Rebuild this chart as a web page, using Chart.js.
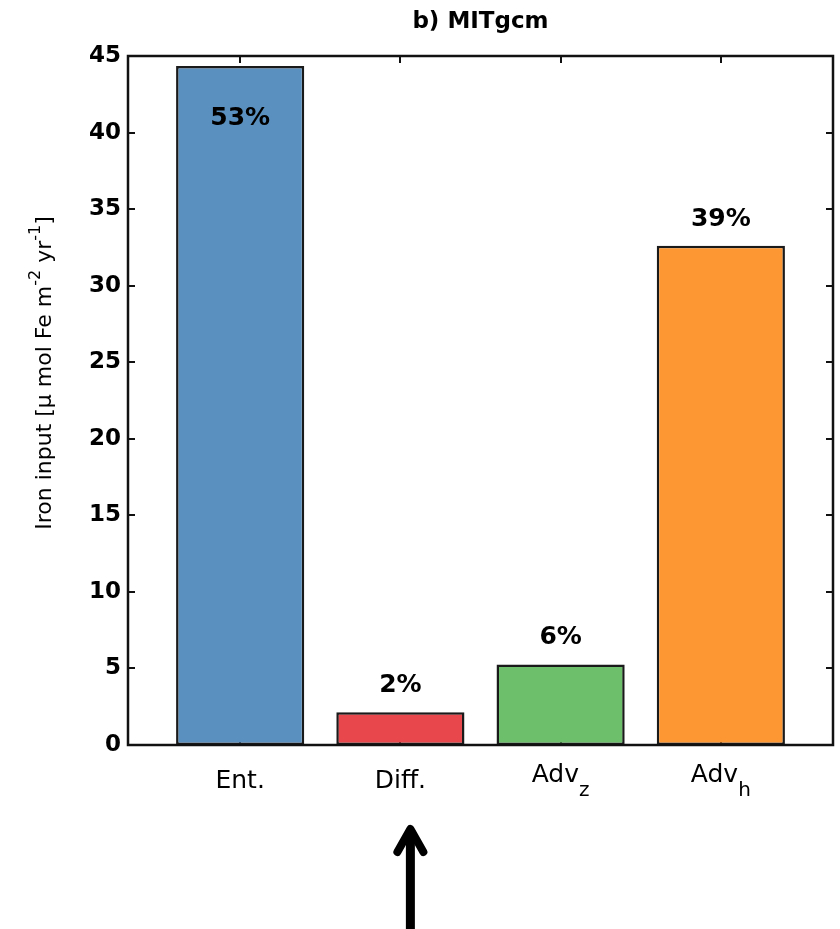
<!DOCTYPE html>
<html>
<head>
<meta charset="utf-8">
<script src="https://cdn.jsdelivr.net/npm/chart.js@4/dist/chart.umd.min.js"></script>
<style>
  html, body { margin: 0; padding: 0; background: #fff; }
  #c { display: block; }
</style>
</head>
<body>
<canvas id="c" width="840" height="929"></canvas>
<script>
// Iron supply terms (MITgcm)
const categories = ['Ent.', 'Diff.', 'Adv', 'Adv'];
const subscripts = ['', '', 'z', 'h'];
const ironInput = [44.35, 2.14, 5.26, 32.6];
const shareLabels = ['53%', '2%', '6%', '39%'];
const barColors = ['#5A90BF', '#E8474B', '#6DBF6C', '#FD9733'];
const yTickValues = [0, 5, 10, 15, 20, 25, 30, 35, 40, 45];

const FONT = "'DejaVu Sans', 'Liberation Sans', sans-serif";
const INK = '#111';

function drawRich(ctx, parts, x, y, align) {
  // parts: [{t, size, weight, dy}] drawn on one line, dy shifts baseline
  let total = 0;
  for (const p of parts) {
    ctx.font = `${p.weight || 'normal'} ${p.size}px ${FONT}`;
    p.w = ctx.measureText(p.t).width;
    total += p.w;
  }
  let cx = align === 'center' ? x - total / 2 : x;
  ctx.textAlign = 'left';
  ctx.textBaseline = 'alphabetic';
  for (const p of parts) {
    ctx.font = `${p.weight || 'normal'} ${p.size}px ${FONT}`;
    ctx.fillText(p.t, cx, y + (p.dy || 0));
    cx += p.w;
  }
}

const framePlugin = {
  id: 'frame',
  beforeDatasetsDraw(chart) {
    const { ctx, chartArea: a, scales: { x, y } } = chart;
    ctx.save();
    ctx.strokeStyle = INK;
    ctx.lineWidth = 2;
    ctx.beginPath();
    const tl = 7;
    for (const v of yTickValues) {
      const py = Math.round(y.getPixelForValue(v));
      ctx.moveTo(a.left, py); ctx.lineTo(a.left + tl, py);
      ctx.moveTo(a.right, py); ctx.lineTo(a.right - tl, py);
    }
    categories.forEach((_, i) => {
      const px = Math.round(x.getPixelForValue(i + 1));
      ctx.moveTo(px, a.top); ctx.lineTo(px, a.top + tl);
      ctx.moveTo(px, a.bottom); ctx.lineTo(px, a.bottom - tl);
    });
    ctx.stroke();
    ctx.restore();
  },
  afterDatasetsDraw(chart) {
    const { ctx, chartArea: a, scales: { x, y } } = chart;
    ctx.save();
    // axes box
    ctx.strokeStyle = INK;
    ctx.lineWidth = 2.5;
    ctx.strokeRect(a.left, a.top, a.right - a.left, a.bottom - a.top);

    ctx.fillStyle = '#000';
    // title
    ctx.font = `bold 23px ${FONT}`;
    ctx.textAlign = 'center';
    ctx.textBaseline = 'middle';
    ctx.fillText('b) MITgcm', (a.left + a.right) / 2, 22);

    // share labels above (or inside) each bar
    const meta = chart.getDatasetMeta(0);
    ironInput.forEach((v, i) => {
      const bar = meta.data[i];
      const above = v + 1.75;
      const yVal = above > y.max - 2 ? v - 3.4 : above;
      ctx.font = `bold 25px ${FONT}`;
      ctx.textAlign = 'center';
      ctx.textBaseline = 'middle';
      ctx.fillText(shareLabels[i], bar.x, y.getPixelForValue(yVal));
    });

    // category labels with subscripts
    categories.forEach((c, i) => {
      const px = x.getPixelForValue(i + 1);
      if (subscripts[i]) {
        drawRich(ctx, [
          { t: c, size: 25 },
          { t: subscripts[i], size: 20, dy: 14 }
        ], px, a.bottom + 37, 'center');
      } else {
        drawRich(ctx, [{ t: c, size: 25 }], px, a.bottom + 43, 'center');
      }
    });

    // y-axis title
    ctx.save();
    ctx.translate(51, 373);
    ctx.rotate(-Math.PI / 2);
    drawRich(ctx, [
      { t: 'Iron input [\u03bc mol Fe m', size: 22 },
      { t: '-2', size: 16, dy: -11 },
      { t: ' yr', size: 22 },
      { t: '-1', size: 16, dy: -11 },
      { t: ']', size: 22 }
    ], 0, 0, 'center');
    ctx.restore();

    // arrow pointing at the diffusive term
    const ax = x.getPixelForValue(2) + 10;
    ctx.strokeStyle = '#000';
    ctx.lineWidth = 9;
    ctx.lineCap = 'butt';
    ctx.beginPath();
    ctx.moveTo(ax, 834); ctx.lineTo(ax, 929);
    ctx.stroke();
    ctx.lineWidth = 8;
    ctx.lineCap = 'round';
    ctx.lineJoin = 'round';
    ctx.beginPath();
    ctx.moveTo(ax - 13, 852); ctx.lineTo(ax, 829); ctx.lineTo(ax + 13, 852);
    ctx.stroke();
    ctx.restore();
  }
};

new Chart(document.getElementById('c'), {
  type: 'bar',
  data: {
    datasets: [{
      data: ironInput.map((v, i) => ({ x: i + 1, y: v })),
      backgroundColor: barColors,
      borderColor: '#1a1a1a',
      borderWidth: 2.5,
      borderSkipped: false,
      barPercentage: 0.8,
      categoryPercentage: 1.0
    }]
  },
  options: {
    responsive: false,
    animation: false,
    devicePixelRatio: 1,
    layout: { padding: { top: 56, right: 7, left: 0, bottom: 0 } },
    plugins: {
      legend: { display: false },
      title: { display: false },
      tooltip: { enabled: false }
    },
    scales: {
      x: {
        type: 'linear',
        min: 0.3,
        max: 4.7,
        offset: false,
        afterBuildTicks(s) { s.ticks = categories.map((_, i) => ({ value: i + 1 })); },
        grid: { display: false, drawTicks: false, offset: false },
        border: { display: false },
        ticks: { display: false },
        afterFit(s) { s.height = 184; }
      },
      y: {
        min: 0,
        max: 45,
        afterBuildTicks(s) { s.ticks = yTickValues.map(v => ({ value: v })); },
        grid: { display: false, drawTicks: false },
        border: { display: false },
        ticks: {
          padding: 7,
          color: '#000',
          font: { family: FONT, size: 23, weight: 'bold' }
        },
        afterFit(s) { s.width = 128; }
      }
    }
  },
  plugins: [framePlugin]
});
</script>
</body>
</html>
